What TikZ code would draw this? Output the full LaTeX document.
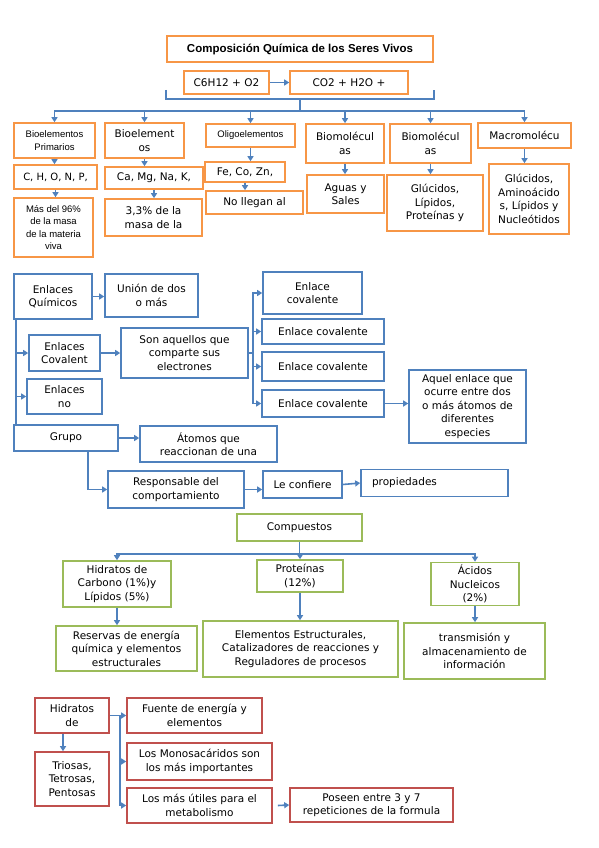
\documentclass[tikz,border=0pt]{standalone}
\usepackage{fontspec}
\setmainfont{DejaVu Sans}
\newfontfamily\arial{Liberation Sans}
\usetikzlibrary{arrows.meta,calc}
\definecolor{naranja}{HTML}{F79646}
\definecolor{azul}{HTML}{4F81BD}
\definecolor{verde}{HTML}{9BBB59}
\definecolor{rojo}{HTML}{C0504D}
\tikzset{
    caja/.style={draw, line width=1.6pt, fill=white, align=center, inner sep=1pt,
        font=\fontsize{10.5}{13.5}\selectfont},
    ocaja/.style={caja, draw=naranja},
    bcaja/.style={caja, draw=azul},
    gcaja/.style={caja, draw=verde},
    rcaja/.style={caja, draw=rojo},
    chica/.style={font=\arial\fontsize{9.5}{12.5}\selectfont},
    wh/.style 2 args={minimum width=#1pt, minimum height=#2pt},
    lin/.style={draw=azul, line width=1.6pt},
    arr/.style={lin, -{Triangle[length=5pt,width=6pt]}}
}
\begin{document}
\begin{tikzpicture}[x=1pt,y=-1pt]
    \useasboundingbox[fill=white] (0,0) rectangle (599,848);
    % composicion quimica
    \node[ocaja, wh={266}{26}, font=\arial\bfseries\fontsize{11.5}{13}\selectfont] (titulo) at (300,49) {Composición Química de los Seres Vivos};
    \node[ocaja, wh={85}{23}] (reac) at (226.5,82.5) {C6H12 + O2};
    \node[ocaja, wh={118}{23}] (prod) at (349,82.5) {CO2 + H2O +};
    \draw[arr] (reac.east) -- (prod.west);
    \coordinate (llave1) at (166,90);
    \coordinate (llave2) at (434,90);
    \coordinate (medio) at (300,99);
    \coordinate (ramal) at (300,111);
    \draw[lin] (llave1) -- (llave1 |- medio) -- (llave2 |- medio) -- (llave2);
    \draw[lin] (medio) -- (ramal);
    \node[ocaja, chica, wh={81}{35}] (bp) at (54.5,140.5) {Bioelementos\\Primarios};
    \node[ocaja, wh={79}{35}] (bs) at (144.5,140.5) {Bioelement\\os};
    \node[ocaja, chica, wh={89}{23}] (oligo) at (250.5,135.5) {Oligoelementos};
    \node[ocaja, wh={78}{39}] (bi) at (345,143.5) {Biomolécul\\as};
    \node[ocaja, wh={81}{39}] (bo) at (430.5,143.5) {Biomolécul\\as};
    \node[ocaja, wh={93}{25}] (macro) at (524.5,135.5) {Macromolécu};
    \node[ocaja, wh={83}{24}, font=\fontsize{10}{12}\selectfont] (chon) at (55.5,177) {C, H, O, N, P,};
    \node[ocaja, wh={98}{22}] (camg) at (154,178) {Ca, Mg, Na, K,};
    \node[ocaja, wh={80}{20}] (feco) at (245,172) {Fe, Co, Zn,};
    \node[ocaja, wh={77}{38}] (aguas) at (345.5,194) {Aguas y\\Sales};
    \node[ocaja, wh={96}{56}] (gluc) at (435,203) {Glúcidos,\\Lípidos,\\Proteínas y};
    \node[ocaja, wh={80}{70}] (glam) at (529,199) {Glúcidos,\\Aminoácido\\s, Lípidos y\\Nucleótidos};
    \node[ocaja, chica, wh={79}{59}] (mas) at (53.5,227.5) {Más del 96\%\\de la masa\\de la materia\\viva};
    \node[ocaja, wh={97}{37}] (tres) at (153.5,217.5) {3,3\% de la\\masa de la};
    \node[ocaja, wh={97}{23}] (nollegan) at (254.5,202.5) {No llegan al};
    \foreach \n in {bp,bs,oligo,bi,bo,macro}
        \draw[arr] (ramal) -| (\n.north);
    \draw[arr] (bp.south) -- (bp.south |- chon.north);
    \draw[arr] (chon.south) -- (chon.south |- mas.north);
    \draw[arr] (bs.south) -- (bs.south |- camg.north);
    \draw[arr] (camg.south) -- (camg.south |- tres.north);
    \draw[arr] (oligo.south) -- (oligo.south |- feco.north);
    \draw[arr] (feco.south) -- (feco.south |- nollegan.north);
    \draw[arr] (bi.south) -- (bi.south |- aguas.north);
    \draw[arr] (bo.south) -- (bo.south |- gluc.north);
    \draw[arr] (macro.south) -- (macro.south |- glam.north);
    % enlaces
    \node[bcaja, wh={78}{45}] (eq) at (53,296.5) {Enlaces\\Químicos};
    \node[bcaja, wh={93}{43}] (union) at (151.5,295.5) {Unión de dos\\o más};
    \node[bcaja, wh={71}{36}] (ecov) at (64.5,353) {Enlaces\\Covalent};
    \node[bcaja, wh={75}{35}] (eno) at (64.5,396.5) {Enlaces\\no};
    \node[bcaja, wh={127}{50}] (son) at (184.5,353) {Son aquellos que\\comparte sus\\electrones};
    \node[bcaja, wh={104}{26}] (gf) at (66,438) {Grupo};
    \node[bcaja, wh={137}{36}] (atomos) at (208.5,444) {Átomos que\\reaccionan de una};
    \node[bcaja, wh={136}{37}] (resp) at (176,489.5) {Responsable del\\comportamiento};
    \node[bcaja, wh={79}{27}] (lecon) at (302.5,484.5) {Le confiere};
    \node[bcaja, wh={147}{27}, text width=125pt, align=left] (prop) at (434.5,483) {propiedades};
    \node[bcaja, wh={99}{42}] (simple) at (312.5,293) {Enlace\\covalente};
    \node[bcaja, wh={122}{25}] (doble) at (323,331.5) {Enlace covalente};
    \node[bcaja, wh={122}{29}] (triple) at (323,366.5) {Enlace covalente};
    \node[bcaja, wh={122}{27}] (polar) at (323,403.5) {Enlace covalente};
    \node[bcaja, wh={117}{73}] (aquel) at (467.5,406.5) {Aquel enlace que\\ocurre entre dos\\o más átomos de\\diferentes\\especies};
    \draw[arr] (eq.east) -- (eq.east -| union.west);
    \draw[lin] ([xshift=3pt]eq.south west) -- ([xshift=3pt]eq.south west |- gf.north);
    \draw[arr] ([xshift=3pt]eq.south west |- ecov.west) -- (ecov.west);
    \draw[arr] ([xshift=3pt]eq.south west |- eno.west) -- (eno.west);
    \draw[arr] (ecov.east) -- (son.west);
    \coordinate (eje) at (253,353);
    \draw[lin] (son.east) -- (eje);
    \foreach \n in {simple,doble,triple,polar}
        \draw[arr] (eje) |- (\n.west);
    \draw[arr] (polar.east) -- (polar.east -| aquel.west);
    \draw[arr] (gf.east) -- (gf.east -| atomos.west);
    \draw[arr] ([xshift=22pt]gf.south) |- (resp.west);
    \draw[arr] (resp.east) -- (resp.east -| lecon.west);
    \draw[arr] (lecon.east) -- (prop.west);
    % compuestos organicos
    \node[gcaja, wh={125}{27}] (comp) at (299.5,527.5) {Compuestos};
    \node[gcaja, wh={108}{46}] (hc) at (117,584) {Hidratos de\\Carbono (1\%)y\\Lípidos (5\%)};
    \node[gcaja, wh={86}{32}] (prot) at (300,576) {Proteínas\\(12\%)};
    \node[gcaja, wh={88}{43}] (acn) at (475,584) {Ácidos\\Nucleicos\\(2\%)};
    \node[gcaja, wh={141}{45}] (res) at (126.5,648.5) {Reservas de energía\\química y elementos\\estructurales};
    \node[gcaja, wh={195}{56}] (elem) at (300.5,649) {Elementos Estructurales,\\Catalizadores de reacciones y\\Reguladores de procesos};
    \node[gcaja, wh={141}{56}] (trans) at (474.5,651) {transmisión y\\almacenamiento de\\información};
    \coordinate (nudo) at (299.5,554);
    \draw[lin] (comp.south) -- (nudo);
    \foreach \n in {hc,prot,acn}
        \draw[arr] (nudo) -| (\n.north);
    \draw[arr] (hc.south) -- (hc.south |- res.north);
    \draw[arr] (prot.south) -- (prot.south |- elem.north);
    \draw[arr] (acn.south) -- (acn.south |- trans.north);
    % hidratos de carbono
    \node[rcaja, wh={74}{35}] (hid) at (72,715.5) {Hidratos\\de};
    \node[rcaja, wh={74}{54}] (trio) at (72,779) {Triosas,\\Tetrosas,\\Pentosas};
    \node[rcaja, wh={135}{35}] (fuente) at (194.5,715.5) {Fuente de energía y\\elementos};
    \node[rcaja, wh={145}{37}] (mono) at (199.5,761.5) {Los Monosacáridos son\\los más importantes};
    \node[rcaja, wh={145}{35}] (util) at (199.5,805.5) {Los más útiles para el\\metabolismo};
    \node[rcaja, wh={163}{34}] (poseen) at (371.5,805) {Poseen entre 3 y 7\\repeticiones de la formula};
    \draw[arr] ([xshift=-9pt]hid.south) -- ([xshift=-9pt]hid.south |- trio.north);
    \coordinate (bifur) at (120,715.5);
    \draw[lin] (hid.east) -- (bifur);
    \draw[arr] (bifur) -- (fuente.west);
    \draw[arr] (bifur) |- (mono.west);
    \draw[arr] (bifur) |- (util.west);
    \draw[arr] ([xshift=5pt]util.east) -- (poseen.west);
\end{tikzpicture}
\end{document}
